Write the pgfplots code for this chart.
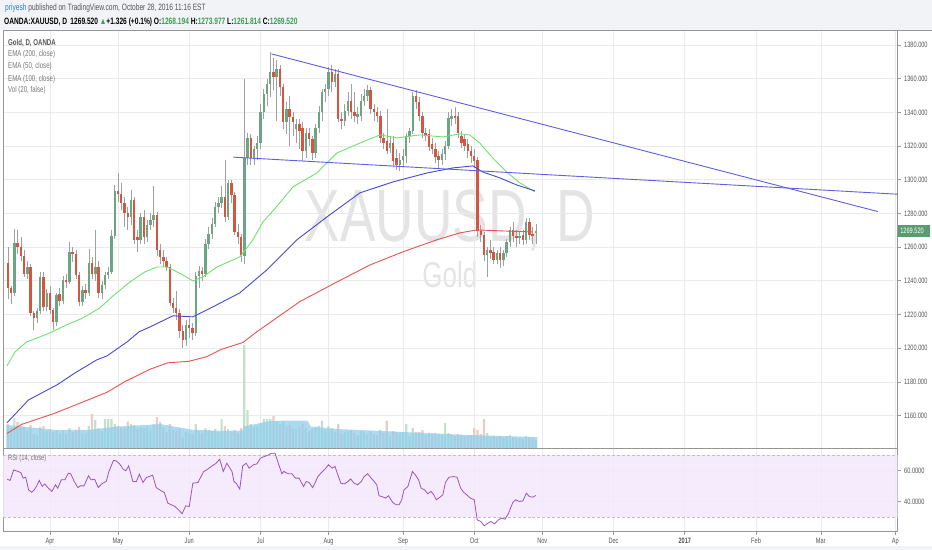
\documentclass[border=0pt]{standalone}
\usepackage{fontspec}
\setmainfont{Liberation Sans}[FakeStretch=0.72]
\usepackage{pgfplots}
\usepackage{pgfplotstable}
\pgfplotsset{compat=1.18}
\definecolor{upc}{RGB}{107,165,131}
\definecolor{dnc}{RGB}{212,86,66}
\definecolor{wick}{RGB}{160,160,160}
\definecolor{emaA}{RGB}{110,228,110}
\definecolor{emaB}{RGB}{72,72,210}
\definecolor{emaC}{RGB}{232,82,82}
\definecolor{trend}{RGB}{95,95,225}
\definecolor{gridc}{RGB}{234,234,234}
\definecolor{volma}{RGB}{140,206,236}
\definecolor{volup}{RGB}{196,224,204}
\definecolor{voldn}{RGB}{232,204,200}
\definecolor{rsil}{RGB}{155,85,190}
\definecolor{rsiband}{RGB}{244,232,252}
\definecolor{rsilim}{RGB}{200,185,212}
\definecolor{hdrbg}{RGB}{241,243,246}
\definecolor{txtgrey}{RGB}{85,85,85}
\definecolor{leggrey}{RGB}{120,120,120}
\definecolor{hdrblue}{RGB}{42,125,205}
\definecolor{valgreen}{RGB}{55,160,80}
\definecolor{pricebox}{RGB}{90,155,112}
\definecolor{wm}{RGB}{228,228,228}
\definecolor{axisc}{RGB}{150,150,150}

\pgfplotstableread{
i o h l c v
-13 1250.4 1260.0 1229.0 1235.6 24
-12 1235.6 1237.0 1226.0 1232.6 20
-11 1233.0 1271.0 1231.0 1262.7 30
-10 1262.7 1270.0 1256.0 1260.0 26
-9 1260.0 1266.0 1252.0 1255.0 22
-8 1255.0 1258.0 1242.0 1244.0 21
-7 1244.0 1252.0 1241.0 1248.0 17
-6 1248.0 1250.0 1219.0 1221.0 23
-5 1221.0 1222.0 1211.0 1218.0 14
-4 1218.0 1224.0 1215.0 1222.0 13
-3 1222.0 1245.0 1220.0 1242.5 21
-2 1242.5 1245.0 1222.0 1224.7 22
-1 1224.7 1235.0 1222.0 1232.6 17
0 1232.6 1237.0 1220.0 1222.7 19
1 1222.7 1224.0 1211.0 1215.8 16
2 1215.8 1233.0 1213.0 1231.6 18
3 1232.0 1236.0 1225.0 1228.0 15
4 1228.0 1243.0 1226.0 1240.5 17
5 1240.5 1244.0 1236.0 1239.5 14
6 1239.5 1263.0 1238.0 1257.3 20
7 1257.3 1260.0 1251.0 1256.0 16
8 1256.0 1258.0 1241.0 1243.5 18
9 1243.5 1245.0 1225.0 1227.7 21
10 1227.7 1237.0 1225.0 1234.6 15
11 1234.6 1238.0 1229.0 1232.6 14
12 1232.6 1259.0 1231.0 1250.4 22
13 1250.4 1254.0 1241.0 1244.0 34
14 1244.0 1270.0 1240.0 1248.0 28
15 1248.0 1252.0 1230.0 1232.6 20
16 1232.6 1240.0 1229.0 1237.5 17
17 1237.5 1245.0 1235.0 1243.5 29
18 1243.5 1248.0 1241.0 1245.5 29
19 1245.5 1270.0 1244.0 1266.6 29
20 1266.6 1297.0 1265.0 1293.5 24
21 1293.5 1304.0 1287.0 1291.5 22
22 1291.5 1298.0 1282.0 1286.0 21
23 1286.0 1290.0 1272.0 1280.0 20
24 1280.0 1284.0 1270.0 1278.0 26.6
25 1278.0 1294.0 1273.0 1288.0 24
26 1288.0 1290.0 1262.0 1264.3 23
27 1266.0 1270.0 1257.0 1264.0 19
28 1264.0 1280.0 1262.0 1278.0 21
29 1278.0 1282.0 1262.0 1266.0 20
30 1266.0 1276.0 1263.0 1273.0 22
31 1273.0 1280.0 1270.0 1276.0 18
32 1276.0 1296.0 1272.0 1279.0 24
33 1279.0 1281.0 1255.0 1258.0 31
34 1258.0 1262.0 1250.0 1254.0 26
35 1254.0 1258.0 1248.0 1252.0 20
36 1252.0 1254.0 1246.0 1248.0 16
37 1248.0 1250.0 1225.0 1227.0 24
38 1227.0 1230.0 1221.0 1224.0 18
39 1224.0 1234.0 1217.0 1221.0 17
40 1221.0 1223.0 1206.0 1210.0 19
41 1210.0 1214.0 1200.0 1205.0 11
42 1205.0 1217.0 1201.0 1214.0 16
43 1214.0 1218.0 1206.0 1212.0 15
44 1212.0 1215.0 1205.0 1209.0 14
45 1209.0 1245.0 1207.0 1243.0 24
46 1243.0 1249.0 1236.0 1246.0 17
47 1246.0 1248.0 1240.0 1244.0 15
48 1244.0 1265.0 1242.0 1262.0 20
49 1262.0 1272.0 1259.0 1268.0 18
50 1268.0 1277.0 1265.0 1274.0 17
51 1274.0 1287.0 1272.0 1284.0 19
52 1284.0 1290.0 1280.0 1286.0 16
53 1286.0 1296.0 1283.0 1290.0 29
54 1290.0 1312.0 1275.0 1278.0 22
55 1278.0 1300.0 1276.0 1298.0 19
56 1298.0 1300.0 1286.0 1291.0 16
57 1291.0 1293.0 1267.0 1269.0 18
58 1269.0 1274.0 1262.0 1266.0 15
59 1266.0 1268.0 1251.0 1255.5 20
60 1255.0 1360.0 1250.0 1313.0 103
61 1313.0 1328.0 1309.0 1325.0 38
62 1325.0 1327.0 1309.0 1313.0 24
63 1313.0 1320.0 1309.0 1318.0 21
64 1318.0 1326.0 1312.0 1322.0 22
65 1322.0 1345.0 1318.0 1340.0 25
66 1340.0 1354.0 1336.0 1351.0 29
67 1351.0 1360.0 1344.0 1357.0 29
68 1357.0 1376.0 1349.0 1364.0 29
69 1364.0 1372.0 1353.0 1361.0 32
70 1361.0 1371.0 1335.0 1366.0 27
71 1366.0 1368.0 1350.0 1355.0 24
72 1355.0 1357.0 1330.0 1334.0 26
73 1334.0 1346.0 1327.0 1342.0 22
74 1342.0 1350.0 1320.0 1337.0 23
75 1337.0 1340.0 1326.0 1334.0 20
76 1330.0 1336.0 1322.0 1333.0 19
77 1333.0 1336.0 1318.0 1329.0 21
78 1331.0 1334.0 1311.0 1317.0 24
79 1317.0 1331.0 1313.0 1328.0 20
80 1328.0 1331.0 1320.0 1324.0 17
81 1324.0 1326.0 1312.0 1316.0 19
82 1316.0 1333.0 1313.0 1331.0 21
83 1331.0 1344.0 1328.0 1340.0 22
84 1340.0 1354.0 1335.0 1352.0 27.6
85 1352.0 1357.0 1346.0 1354.0 18
86 1354.0 1367.0 1350.0 1364.0 22
87 1364.0 1368.0 1352.0 1358.0 20
88 1358.0 1366.0 1355.0 1363.0 16
89 1363.0 1366.0 1334.0 1336.0 24
90 1336.0 1340.0 1330.0 1335.0 15
91 1335.0 1345.0 1332.0 1341.0 16
92 1341.0 1352.0 1338.0 1347.0 17
93 1347.0 1357.0 1336.0 1340.0 18
94 1340.0 1352.0 1334.0 1338.0 15
95 1337.0 1343.0 1333.0 1339.0 13
96 1338.0 1351.0 1335.0 1347.0 17
97 1347.0 1354.0 1344.0 1350.0 16
98 1350.0 1356.0 1347.0 1353.0 15
99 1353.0 1355.0 1339.0 1342.0 17
100 1342.0 1345.0 1335.0 1340.0 14
101 1340.0 1343.0 1334.0 1338.0 13
102 1338.0 1341.0 1322.0 1325.0 18
103 1325.0 1328.0 1318.0 1322.0 15
104 1323.0 1342.0 1315.0 1317.0 27.6
105 1319.0 1326.0 1316.0 1322.0 12
106 1322.0 1326.0 1308.0 1311.0 17
107 1313.0 1318.0 1306.0 1309.0 16
108 1309.0 1316.0 1305.0 1312.0 15
109 1312.0 1318.0 1308.0 1314.0 16
110 1314.0 1328.0 1310.0 1326.0 24
111 1326.0 1331.0 1322.0 1329.0 12
112 1329.0 1352.0 1327.0 1350.0 20
113 1350.0 1353.0 1342.0 1346.0 16
114 1346.0 1349.0 1335.0 1338.0 16
115 1338.0 1340.0 1325.0 1327.6 18
116 1327.6 1331.0 1323.0 1326.6 13
117 1327.0 1330.0 1317.0 1319.7 15
118 1321.0 1325.0 1315.0 1318.0 14
119 1318.0 1322.0 1310.0 1313.7 15
120 1314.0 1317.0 1307.0 1311.7 14
121 1311.7 1318.0 1309.0 1315.0 13
122 1315.0 1323.0 1312.0 1320.0 25
123 1320.0 1340.0 1318.0 1336.5 15
124 1336.0 1342.0 1332.0 1338.0 13
125 1338.0 1343.0 1333.0 1337.0 12
126 1338.0 1340.0 1325.0 1327.6 14
127 1326.0 1329.0 1319.0 1322.0 13
128 1324.0 1327.0 1317.0 1320.0 12
129 1321.0 1324.0 1313.0 1317.0 12
130 1317.0 1320.0 1310.0 1314.0 13
131 1314.0 1318.0 1307.0 1311.0 20
132 1311.8 1313.5 1266.0 1269.3 18
133 1269.3 1273.0 1263.0 1267.3 14
134 1267.3 1269.0 1252.0 1255.4 29
135 1255.4 1260.0 1242.5 1258.4 15
136 1258.4 1264.0 1253.0 1256.4 11
137 1257.0 1260.0 1250.0 1252.4 12
138 1252.4 1258.0 1250.0 1256.4 11
139 1256.4 1260.0 1247.5 1252.4 12
140 1252.4 1258.0 1249.0 1256.4 10
141 1256.4 1265.0 1254.0 1263.3 12
142 1263.3 1272.0 1260.0 1270.2 13
143 1270.2 1275.0 1263.0 1266.3 11
144 1266.3 1270.0 1260.0 1265.3 10
145 1265.3 1269.0 1262.0 1266.5 10
146 1267.0 1270.0 1261.0 1264.0 9
147 1264.0 1277.0 1262.0 1275.2 12
148 1275.2 1277.0 1264.0 1267.0 11
149 1268.0 1272.0 1262.0 1266.5 10
150 1268.2 1274.0 1261.8 1269.5 8
}\candles

\pgfplotstableread{
i v
-13.5 23.3
1.1 18.3
12.1 18.3
21 21.6
34.2 24
44.1 18.3
52.9 17.3
59.4 17.5
59.8 21.6
68.3 27.3
78.3 27.6
79.6 27
80.5 21.6
89.3 19
105.8 16.6
127.9 13.3
150.5 11
}\volma

\pgfplotstableread{
i p
-13.27 1189.5
-10.8 1197.8
-7.19 1203.7
-3.09 1206.7
0 1209.1
5.15 1213.8
10.19 1218.0
15.43 1223.9
19.44 1231.0
24.69 1239.3
29.32 1245.3
33.02 1248.2
36.1 1248.2
41.05 1243.5
44.14 1239.9
47.22 1242.3
51.54 1248.2
58.64 1254.2
62.65 1264.3
65.74 1274.9
69.97 1284.0
75.0 1295.7
82.4 1304.0
88.6 1315.9
95.7 1321.8
101.9 1326.6
107.1 1324.8
114.2 1326.6
121.3 1325.4
126.5 1327.2
129.6 1326.6
132.7 1321.8
136.7 1312.9
141.0 1304.6
145.1 1298.1
149.7 1292.8
}\emafifty

\pgfplotstableread{
i p
-13.27 1155.7
-6.6 1169.3
2.16 1178.2
7.72 1185.3
14.5 1193.1
17.6 1195.4
23.8 1203.7
27.5 1209.7
30.9 1212.6
37.96 1219.2
44.1 1218.6
50.3 1224.5
58.6 1232.8
66.98 1246.5
76.2 1264.3
85.5 1277.9
95.7 1292.2
105.9 1298.7
116.4 1304.0
124.4 1307.0
130.6 1308.2
133.6 1304.6
138.9 1301.1
144.1 1296.9
149.7 1293.4
}\emahundred

\pgfplotstableread{
i p
-13.24 1149.4
-8.83 1154.7
1.11 1161.1
6.6 1165.3
17.6 1173.8
23.1 1180.1
30.9 1187.5
36.4 1191.3
42.9 1192.2
48.5 1195.0
52.8 1199.2
59.6 1203.4
63.9 1209.8
77.2 1227.7
88.6 1239.3
98.8 1249.4
109.0 1257.2
119.4 1264.3
126.5 1268.4
131.8 1270.2
139.8 1269.6
149.1 1269.0
}\ematwohundred

\pgfplotstableread{
i r
-13.2 54.4
-12.3 53.6
-11.2 60.4
-9.9 59.4
-9.0 58.7
-8.3 55.1
-7.5 55.7
-6.6 47.5
-5.7 46.0
-5.0 47.1
-4.2 49.7
-3.3 53.6
-2.4 49.7
-1.6 51.4
-0.5 48.6
0.6 46.5
1.7 50.8
2.4 48.6
3.5 54.0
4.6 54.0
5.7 58.3
6.4 57.9
7.5 52.9
8.6 49.0
9.4 50.1
10.5 50.1
11.9 56.6
12.7 54.0
13.8 54.4
14.9 49.0
16.0 51.4
17.4 53.1
18.2 59.4
19.6 66.5
20.4 66.3
21.5 64.3
22.6 60.9
23.4 59.8
24.3 63.0
25.6 52.9
26.7 52.9
27.6 57.6
28.7 52.3
29.8 55.5
30.6 56.1
31.7 57.0
32.8 49.0
33.9 47.5
35.3 45.8
36.4 38.9
37.5 37.9
38.6 36.8
39.7 34.6
40.8 32.1
41.9 37.2
43.0 36.8
44.1 51.8
45.7 52.3
47.4 59.2
48.7 60.9
49.8 62.6
51.3 64.7
52.4 67.3
53.5 59.4
54.6 64.7
56.2 59.4
56.8 52.9
57.5 51.8
58.6 48.0
59.5 63.0
60.6 64.7
61.5 61.5
62.8 63.7
63.9 64.3
65.0 68.0
66.1 69.0
67.5 70.1
68.3 71.2
69.5 71.2
70.5 64.7
71.6 57.9
72.2 59.4
73.6 57.9
74.7 57.9
75.8 55.1
76.9 55.1
78.3 49.7
79.1 52.9
80.0 52.3
81.1 49.0
81.8 51.8
82.7 56.1
83.8 58.7
84.9 60.9
86.0 63.7
87.1 61.5
88.0 62.6
88.7 58.3
89.8 51.8
90.9 51.4
92.0 52.9
92.8 54.6
93.9 51.8
95.0 50.8
96.1 52.9
97.0 56.1
98.1 57.9
99.2 55.1
100.1 52.9
100.9 50.8
101.6 43.7
102.5 43.2
103.6 42.2
104.5 43.7
105.8 39.4
106.9 37.9
107.8 37.9
108.6 41.1
109.3 47.5
110.5 49.7
111.9 59.4
112.8 57.2
113.8 54.0
114.6 48.6
115.7 47.5
116.6 45.0
117.7 46.5
118.5 44.3
119.3 41.1
120.4 42.8
121.3 44.3
122.1 52.3
123.2 55.7
124.6 56.1
125.7 55.7
126.8 48.6
127.7 46.0
128.7 44.3
129.8 42.2
131.0 41.1
131.9 28.2
133.0 27.1
134.1 24.3
135.2 26.0
136.1 27.1
137.2 25.6
138.5 28.2
139.4 29.3
140.5 28.6
141.6 32.5
142.9 39.4
143.8 41.1
144.9 40.0
146.0 40.4
147.1 45.4
148.0 43.2
149.1 42.8
150.0 43.9
}\rsi

\begin{document}
\begin{tikzpicture}
\fill[hdrbg] (0pt,0pt) rectangle (932pt,550pt);
\fill[white] (0pt,4pt) rectangle (932pt,520pt);
\node[text=wm, font=\fontsize{74}{74}\selectfont, anchor=base, inner sep=0pt] at (450pt,308pt) {XAUUSD, D};
\node[text=wm, font=\fontsize{36}{36}\selectfont, anchor=base, inner sep=0pt] at (450pt,262pt) {Gold};

\begin{axis}[
  at={(3pt,101.7pt)}, anchor=south west, scale only axis,
  width=895pt, height=418.3pt,
  xmin=-14.506, xmax=261.73, ymin=1140.65, ymax=1388.9,
  xtick={0,21,43,65,86,109,131,152,174,196,218,238,261},
  xticklabels={}, xtick style={draw=none},
  ytick={1160,1180,1200,1220,1240,1260,1280,1300,1320,1340,1360,1380},
  yticklabels={1160.000,1180.000,1200.000,1220.000,1240.000,1260.000,1280.000,1300.000,1320.000,1340.000,1360.000,1380.000},
  ytick pos=right, yticklabel pos=right, tick align=outside, major tick length=3pt,
  yticklabel style={font=\fontsize{7.8}{9}\selectfont, text=txtgrey},
  xmajorgrids, ymajorgrids,
  major grid style={gridc, line width=0.6pt},
  axis line style={axisc, line width=0.7pt},
  tick style={axisc, line width=0.6pt},
]
% volume
\addplot[ybar, bar width=2.2pt, fill=volup, draw=none, forget plot]
  table[x=i, y expr={\thisrow{c}>=\thisrow{o} ? 1140.65+\thisrow{v}/1.685 : 1000}] \candles;
\addplot[ybar, bar width=2.2pt, fill=voldn, draw=none, forget plot]
  table[x=i, y expr={\thisrow{c}<\thisrow{o} ? 1140.65+\thisrow{v}/1.685 : 1000}] \candles;
\addplot[fill=volma, fill opacity=0.72, draw=none, forget plot]
  table[x=i, y expr={1140.65+\thisrow{v}/1.685}] \volma \closedcycle;
% wicks
\addplot[draw=none, mark=none, forget plot,
  error bars/.cd, y dir=both, y explicit, error mark=none,
  error bar style={line width=0.6pt, draw=wick, solid}]
  table[x=i, y expr={(\thisrow{h}+\thisrow{l})/2}, y error expr={(\thisrow{h}-\thisrow{l})/2}] \candles;
% bodies
\addplot[draw=none, mark=none, forget plot,
  error bars/.cd, y dir=both, y explicit, error mark=none,
  error bar style={line width=2.4pt, draw=dnc, line cap=butt, solid}]
  table[x=i, y expr={\thisrow{c}<\thisrow{o} ? (\thisrow{o}+\thisrow{c})/2 : 900}, y error expr={abs(\thisrow{o}-\thisrow{c})/2}] \candles;
\addplot[draw=none, mark=none, forget plot,
  error bars/.cd, y dir=both, y explicit, error mark=none,
  error bar style={line width=2.4pt, draw=upc, line cap=butt, solid}]
  table[x=i, y expr={\thisrow{c}>=\thisrow{o} ? (\thisrow{o}+\thisrow{c})/2 : 900}, y error expr={abs(\thisrow{o}-\thisrow{c})/2}] \candles;
% EMAs
\addplot[emaC, line width=0.9pt, no marks] table[x=i, y=p] \ematwohundred;
\addplot[emaA, line width=0.9pt, no marks] table[x=i, y=p] \emafifty;
\addplot[emaB, line width=0.9pt, no marks] table[x=i, y=p] \emahundred;
% trend lines
\addplot[trend, line width=0.9pt, no marks] coordinates {(68.4,1374.7) (255.6,1281.1)};
\addplot[trend, line width=0.9pt, no marks] coordinates {(56.6,1313.4) (261.73,1291.4)};
\end{axis}

\begin{axis}[
  at={(3pt,18.3pt)}, anchor=south west, scale only axis,
  width=895pt, height=83.4pt,
  xmin=-14.506, xmax=261.73, ymin=20.65, ymax=74.45,
  xtick={0,21,43,65,86,109,131,152,174,196,218,238,261},
  xticklabels={Apr,May,Jun,Jul,Aug,Sep,Oct,Nov,Dec,\textbf{2017},Feb,Mar,Ap},
  ytick={40,60}, yticklabels={40.0000,60.0000},
  ytick pos=right, yticklabel pos=right, xtick pos=bottom,
  tick align=outside, major tick length=3pt,
  yticklabel style={font=\fontsize{7.8}{9}\selectfont, text=txtgrey},
  xticklabel style={font=\fontsize{7.8}{9}\selectfont, text=txtgrey},
  xmajorgrids, ymajorgrids,
  major grid style={gridc, line width=0.6pt},
  axis line style={axisc, line width=0.7pt},
  tick style={axisc, line width=0.6pt},
]
\addplot[fill=rsiband, fill opacity=0.85, draw=none, forget plot] coordinates {(-14.6,30) (262,30) (262,70) (-14.6,70)} -- cycle;
\addplot[rsilim, densely dashed, line width=0.6pt, no marks] coordinates {(-14.6,70) (262,70)};
\addplot[rsilim, densely dashed, line width=0.6pt, no marks] coordinates {(-14.6,30) (262,30)};
\addplot[rsil, line width=0.8pt, no marks] table[x=i, y=r] \rsi;
\end{axis}

\draw[axisc, line width=0.7pt] (898pt,520pt) -- (932pt,520pt);
\fill[pricebox] (898pt,312.7pt) rectangle (930pt,324.7pt);
\node[text=white, font=\fontsize{7.8}{9}\selectfont, anchor=west, inner sep=0pt] at (900.5pt,318.7pt) {1269.520};

\node[anchor=base west, inner sep=0pt, font=\fontsize{9.2}{11}\selectfont, text=txtgrey] at (5pt,539pt)
  {{\color{hdrblue}priyesh} published on TradingView.com, October 28, 2016 11:16 EST};
\node[anchor=base west, inner sep=0pt, font=\bfseries\fontsize{9.2}{11}\selectfont, text=black] at (4pt,525.5pt)
  {OANDA:XAUUSD, D\, 1269.520 {\color{valgreen}▲}+1.326 (+0.1\%) O:{\color{valgreen}1268.194} H:{\color{valgreen}1273.977} L:{\color{valgreen}1261.814} C:{\color{valgreen}1269.520}};

\node[anchor=base west, inner sep=0pt, font=\bfseries\fontsize{8.5}{10}\selectfont, text=txtgrey] at (8pt,504.7pt) {Gold, D, OANDA};
\node[anchor=base west, inner sep=0pt, font=\fontsize{8.5}{10}\selectfont, text=leggrey] at (8pt,493.7pt) {EMA (200, close)};
\node[anchor=base west, inner sep=0pt, font=\fontsize{8.5}{10}\selectfont, text=leggrey] at (8pt,481.3pt) {EMA (50, close)};
\node[anchor=base west, inner sep=0pt, font=\fontsize{8.5}{10}\selectfont, text=leggrey] at (8pt,468.7pt) {EMA (100, close)};
\node[anchor=base west, inner sep=0pt, font=\fontsize{8.5}{10}\selectfont, text=leggrey] at (8pt,457pt) {Vol (20, false)};
\node[anchor=base west, inner sep=0pt, font=\fontsize{8}{10}\selectfont, text=leggrey] at (8pt,89pt) {RSI (14, close)};
\end{tikzpicture}
\end{document}
